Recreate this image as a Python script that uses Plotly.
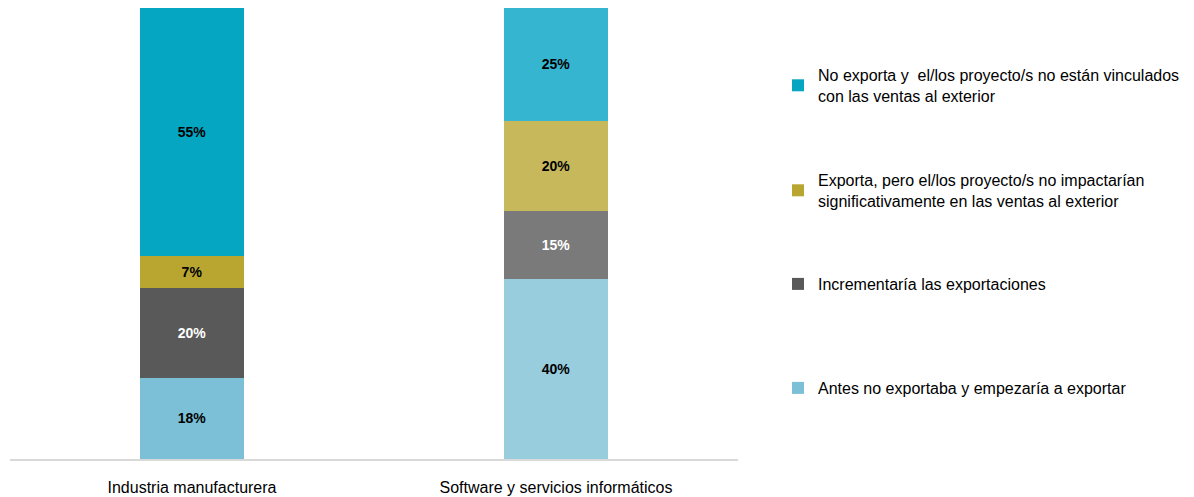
import plotly.graph_objects as go

categories = ["Industria manufacturera", "Software y servicios informáticos"]

series_names = [
    "Antes no exportaba y empezaría a exportar",
    "Incrementaría las exportaciones",
    "Exporta, pero el/los proyecto/s no impactarían<br>significativamente en las ventas al exterior",
    "No exporta y  el/los proyecto/s no están vinculados<br>con las ventas al exterior",
]
antes_no_exportaba = [18, 40]
incrementaria = [20, 15]
exporta_sin_impacto = [7, 20]
no_exporta = [55, 25]

series_values = [antes_no_exportaba, incrementaria, exporta_sin_impacto, no_exporta]
series_colors = [
    ["#7BC0D6", "#98CDDD"],
    ["#595959", "#7A7A7A"],
    ["#B8A631", "#C8B85C"],
    ["#04A6C2", "#35B5CF"],
]
label_colors = [
    ["#000000", "#000000"],
    ["#FFFFFF", "#FFFFFF"],
    ["#000000", "#000000"],
    ["#000000", "#000000"],
]
legend_ids = ["legend4", "legend3", "legend2", "legend"]
# screen y of the first text line of each legend entry
legend_y = [387, 283, 179, 74]

FONT = "Liberation Sans Narrow, Arial Narrow, Liberation Sans, Arial, sans-serif"

fig = go.Figure()
for name, vals, cols, tcols, lg in zip(series_names, series_values, series_colors, label_colors, legend_ids):
    fig.add_trace(go.Bar(
        x=categories, y=vals, name=name,
        marker=dict(color=cols, line=dict(width=0)),
        text=[f"<b>{v}%</b>" for v in vals],
        textposition="inside", insidetextanchor="middle",
        textfont=dict(family=FONT, size=14, color=tcols),
        width=0.286, legend=lg,
    ))

# page body has an 8px margin, so the figure starts at (8, 8) on screen
OFF = 8
W, H = 1186, 489
ml, mr, mt, mb = 10 - OFF, W - (738 - OFF), 8 - OFF, H - (459 - OFF)
plot_w = W - ml - mr
plot_h = H - mt - mb
layout_legends = {}
for lg, yy in zip(legend_ids, legend_y):
    top_fig = yy - 16 - OFF
    layout_legends[lg] = dict(
        x=(778 - OFF - ml) / plot_w, xanchor="left",
        y=1 - (top_fig - mt) / plot_h, yanchor="top",
        font=dict(family=FONT, size=16, color="#000000"),
        bgcolor="rgba(0,0,0,0)", borderwidth=0,
        itemwidth=30, itemclick=False,
    )

fig.update_layout(
    width=W, height=H,
    margin=dict(l=ml, r=mr, t=mt, b=mb),
    barmode="stack",
    plot_bgcolor="white", paper_bgcolor="white",
    showlegend=True,
    **layout_legends,
)
fig.update_xaxes(
    showline=True, linecolor="#D9D9D9", linewidth=1.5,
    tickfont=dict(family=FONT, size=16, color="#000000"),
    ticks="", ticklabelstandoff=13, range=[-0.5, 1.5], showgrid=False,
)
fig.update_yaxes(range=[0, 100], visible=False, showgrid=False)

fig.write_html("out.html")
